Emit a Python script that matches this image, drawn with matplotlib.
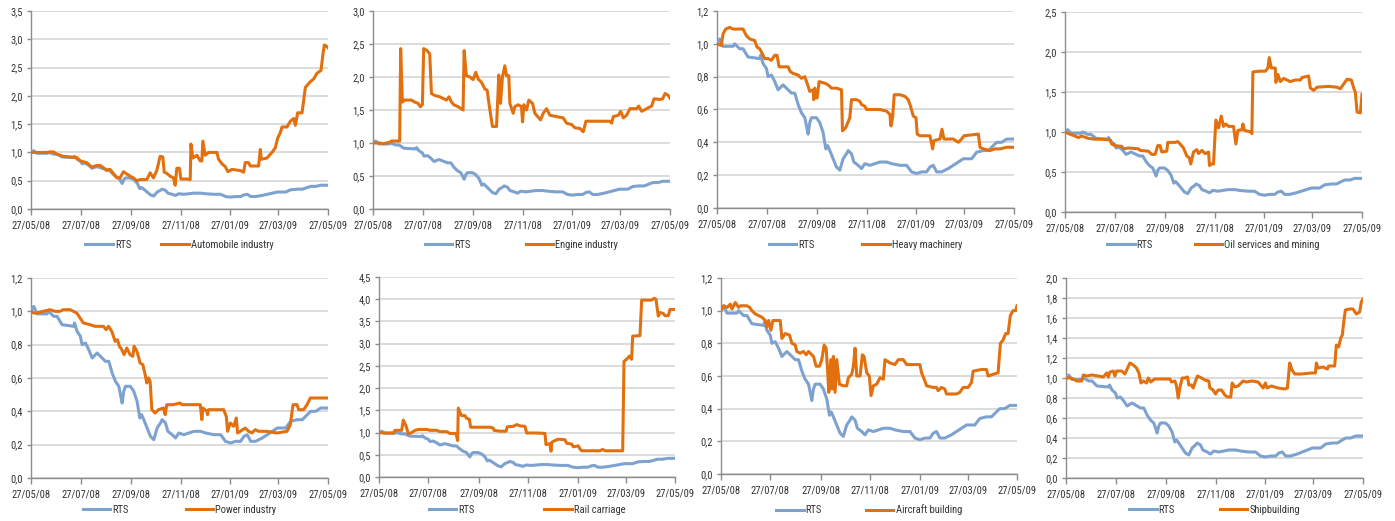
import matplotlib
matplotlib.use("Agg")
import matplotlib.pyplot as plt
from matplotlib import font_manager
import pandas as pd

# ---------------- data ----------------
START = "2008-05-27"
tick_dates = ["2008-05-27", "2008-07-27", "2008-09-27", "2008-11-27",
              "2009-01-27", "2009-03-27", "2009-05-27"]
tick_labels = ["27/05/08", "27/07/08", "27/09/08", "27/11/08",
               "27/01/09", "27/03/09", "27/05/09"]

# (day offset from 27/05/08, value)
rts = [(0, 1.00), (3.3, 1.03), (7.4, 0.985), (19.7, 0.985), (21.7, 1.00), (27.9, 0.97), (32, 0.97),
       (38.1, 0.92), (52.5, 0.91), (53.5, 0.93), (56.6, 0.88), (60.7, 0.85), (62.8, 0.80), (66.9, 0.81),
       (71, 0.77), (75.1, 0.72), (81.2, 0.75), (85.3, 0.73), (91.5, 0.70), (95.6, 0.70), (99.7, 0.63),
       (103.8, 0.58), (107.9, 0.55), (110, 0.50), (112, 0.45), (114, 0.52), (116.1, 0.55), (122.2, 0.55),
       (126.3, 0.52), (130.4, 0.46), (133.7, 0.36), (136, 0.38), (138.6, 0.35), (142.7, 0.30),
       (146.8, 0.25), (150.9, 0.23), (155, 0.30), (159.1, 0.33), (161.2, 0.35), (165.3, 0.33),
       (168.2, 0.28), (173.5, 0.26), (177.6, 0.24), (181.7, 0.27), (187.9, 0.26), (194, 0.27),
       (200.2, 0.28), (208.4, 0.28), (214.5, 0.27), (224.8, 0.26), (233, 0.26), (239.1, 0.22),
       (245.3, 0.21), (251.4, 0.22), (257.6, 0.22), (261.7, 0.25), (265.8, 0.26), (269.9, 0.22),
       (276, 0.22), (284.2, 0.24), (290.4, 0.26), (296.6, 0.28), (302.7, 0.30), (306.8, 0.30),
       (313, 0.30), (319.1, 0.34), (327.3, 0.35), (333.5, 0.35), (339.6, 0.38), (343.7, 0.40),
       (349.9, 0.40), (356, 0.42), (365, 0.42)]

automobile = [(0, 1.00), (2.9, 1.00), (19.3, 1.00), (23.4, 1.01), (27.5, 1.01), (31.6, 0.97), (39.8, 0.93),
              (56.2, 0.91), (60.3, 0.85), (68.5, 0.82), (74.7, 0.74), (80.8, 0.77), (84.9, 0.77), (89, 0.73),
              (93.1, 0.68), (97.2, 0.70), (101.3, 0.63), (105.4, 0.55), (109.5, 0.55), (113.6, 0.66),
              (117.7, 0.62), (121.8, 0.58), (125.9, 0.55), (130, 0.50), (134.1, 0.52), (142.3, 0.52),
              (146.4, 0.64), (150.5, 0.55), (154.6, 0.68), (158.7, 0.93), (162, 0.92), (163.7, 0.65),
              (166.9, 0.63), (171, 0.58), (175.1, 0.55), (177.2, 0.42), (179.2, 0.72), (182.5, 0.72),
              (184.2, 0.53), (191.5, 0.53), (195.7, 0.52), (196.5, 1.15), (198.9, 0.90), (203.9, 0.95),
              (208, 0.85), (210, 0.85), (211.2, 1.20), (214.1, 0.95), (218.2, 1.00), (228.5, 1.00),
              (230.5, 0.88), (234.6, 0.80), (238.7, 0.75), (242, 0.66), (246.9, 0.70), (257.2, 0.68),
              (261.3, 0.65), (263.3, 0.82), (267.4, 0.82), (269.5, 0.76), (279.7, 0.76), (281.8, 1.05),
              (283, 0.88), (290, 0.90), (296.1, 1.00), (300.2, 1.08), (303.1, 1.25), (306.4, 1.35),
              (308.5, 1.45), (314.6, 1.45), (318.7, 1.55), (322.8, 1.60), (324.9, 1.48), (327.7, 1.70),
              (333.1, 1.70), (337.2, 2.15), (343.3, 2.25), (347.4, 2.30), (351.5, 2.40), (356.4, 2.45),
              (358.9, 2.75), (360.5, 2.90), (363, 2.88), (365, 2.85)]

engine = [(0, 1.00), (8.2, 1.00), (12.3, 0.99), (20.5, 1.01), (22.6, 1.03), (32.8, 1.03), (34, 2.43),
          (36.1, 1.62), (39, 1.65), (47.2, 1.65), (51.3, 1.62), (55.4, 1.60), (58.2, 1.55), (60.7, 1.58),
          (62.3, 2.43), (66.4, 2.40), (69.7, 2.35), (71.8, 1.75), (75.9, 1.72), (82, 1.70), (90.2, 1.65),
          (93.5, 1.70), (96.4, 1.62), (99.3, 1.58), (104.6, 1.55), (110.7, 1.50), (112, 2.40),
          (114.8, 2.02), (119, 2.00), (123, 1.96), (126.3, 2.07), (129.2, 1.97), (133.3, 1.92),
          (137.4, 1.82), (140.3, 1.80), (142.7, 1.58), (146.8, 1.25), (151.8, 1.25), (154.6, 2.03),
          (156.7, 1.60), (159.1, 2.00), (162, 2.17), (164.1, 2.02), (166.9, 2.02), (168.2, 1.60),
          (172.3, 1.45), (174.3, 1.55), (178.4, 1.58), (182.5, 1.55), (183.8, 1.32), (185.4, 1.58),
          (188.7, 1.50), (191.5, 1.65), (196.1, 1.60), (198.9, 1.45), (205.9, 1.35), (209.2, 1.45),
          (213.3, 1.52), (217.4, 1.42), (225.6, 1.40), (233.8, 1.38), (237.9, 1.30), (244, 1.28),
          (248.2, 1.23), (254.3, 1.22), (258.4, 1.17), (261.7, 1.33), (266.6, 1.33), (283, 1.33),
          (291.2, 1.33), (293.3, 1.30), (295.3, 1.40), (301.5, 1.42), (304.4, 1.48), (307.6, 1.38),
          (311.7, 1.42), (315.8, 1.52), (324, 1.52), (326.5, 1.56), (330.2, 1.48), (336.3, 1.52),
          (342.5, 1.56), (345.4, 1.67), (352.7, 1.66), (356, 1.67), (358.9, 1.75), (363, 1.72), (365, 1.68)]

heavy = [(0, 1.00), (5.3, 0.99), (7.4, 1.06), (10.7, 1.09), (15.6, 1.10), (19.7, 1.09), (32, 1.09),
         (36.1, 1.05), (40.2, 1.03), (46.3, 1.02), (49.2, 0.98), (52.5, 0.97), (54.6, 0.95), (58.7, 0.91),
         (62.8, 0.91), (66.9, 0.90), (71, 0.93), (73.8, 0.93), (76.3, 0.86), (81.2, 0.86), (87.4, 0.86),
         (90.2, 0.83), (93.5, 0.82), (99.7, 0.81), (103.8, 0.79), (107.9, 0.80), (110.7, 0.76), (114, 0.71),
         (118.1, 0.72), (119, 0.66), (120.2, 0.73), (123, 0.67), (125.5, 0.77), (132.5, 0.76),
         (136.6, 0.75), (140.7, 0.73), (146.8, 0.73), (153, 0.72), (154.2, 0.47), (158.3, 0.49),
         (163.2, 0.55), (165.3, 0.66), (171.5, 0.66), (175.6, 0.65), (177.6, 0.63), (181.7, 0.62),
         (183.8, 0.60), (200.2, 0.60), (208.4, 0.59), (212.5, 0.57), (213.7, 0.50), (215.8, 0.55),
         (217.8, 0.69), (224.8, 0.69), (230.9, 0.68), (235, 0.66), (237.9, 0.62), (241.2, 0.56),
         (244.5, 0.55), (246.1, 0.45), (249.4, 0.44), (261.7, 0.44), (265, 0.36), (266.6, 0.41),
         (274, 0.42), (276.5, 0.48), (278.9, 0.42), (290.4, 0.42), (296.6, 0.40), (300.6, 0.42),
         (303.5, 0.44), (321.2, 0.45), (323.2, 0.37), (327.3, 0.36), (335.5, 0.35), (341.7, 0.36),
         (347.8, 0.36), (356, 0.37), (365, 0.37)]

oil = [(0, 1.00), (4.1, 0.98), (12.3, 0.95), (16.4, 0.93), (20.5, 0.95), (28.7, 0.92), (36.9, 0.91),
       (45.1, 0.91), (55.4, 0.90), (57.4, 0.85), (61.5, 0.83), (69.7, 0.82), (71.8, 0.79), (77.9, 0.80),
       (90.2, 0.79), (92.3, 0.77), (102.5, 0.76), (106.6, 0.72), (110.7, 0.72), (114, 0.83), (116.9, 0.83),
       (118.9, 0.75), (125.1, 0.76), (126.3, 0.87), (135.4, 0.87), (138.6, 0.88), (141.5, 0.85),
       (145.6, 0.80), (149.7, 0.70), (152.6, 0.68), (154.6, 0.60), (157.9, 0.75), (162, 0.78),
       (164.1, 0.73), (168.2, 0.77), (172.3, 0.73), (176.4, 0.75), (177.6, 0.58), (179.7, 0.60),
       (182.5, 0.60), (185.4, 1.15), (188.7, 1.05), (192, 1.20), (194.8, 1.07), (197.7, 1.10),
       (201, 1.07), (207.1, 1.07), (210, 0.85), (212.5, 1.02), (217.4, 1.03), (218.6, 1.10),
       (220.7, 1.02), (228.9, 1.00), (229.7, 0.98), (230.9, 1.75), (237.9, 1.76), (246.1, 1.76),
       (249.4, 1.80), (251, 1.93), (253.5, 1.80), (258.4, 1.80), (259.2, 1.62), (261.7, 1.72),
       (264.6, 1.63), (268.7, 1.67), (272.8, 1.65), (276.9, 1.63), (283, 1.65), (289.2, 1.65),
       (291.2, 1.68), (299.4, 1.70), (301.5, 1.55), (305.6, 1.52), (309.7, 1.56), (324, 1.57),
       (334.3, 1.56), (338.4, 1.54), (342.5, 1.60), (346.6, 1.66), (351.9, 1.65), (354.8, 1.55),
       (356.8, 1.50), (358.9, 1.25), (363, 1.24), (365, 1.47)]

power = [(0, 1.00), (2.9, 0.99), (7, 0.99), (15.2, 1.00), (23.4, 1.01), (29.5, 1.00), (35.7, 1.00),
         (39.8, 1.01), (48, 1.01), (52.1, 1.00), (56.2, 0.99), (60.3, 0.96), (64.4, 0.93), (72.6, 0.92),
         (78.8, 0.91), (89, 0.91), (92.3, 0.89), (95.2, 0.91), (99.3, 0.88), (103.4, 0.82), (106.2, 0.83),
         (108.7, 0.79), (111.6, 0.77), (114.4, 0.74), (117.7, 0.78), (121.8, 0.74), (125.1, 0.73),
         (126.7, 0.79), (129.2, 0.77), (130.8, 0.75), (134.1, 0.69), (137.4, 0.68), (140.3, 0.62),
         (142.3, 0.57), (144.4, 0.60), (146.4, 0.58), (148.5, 0.41), (152.6, 0.39), (156.7, 0.41),
         (162.8, 0.42), (164.9, 0.38), (166.9, 0.44), (175.1, 0.44), (183.3, 0.45), (185.4, 0.44),
         (199.8, 0.44), (208, 0.44), (210, 0.35), (211.2, 0.42), (216.2, 0.40), (217, 0.38), (218.2, 0.41),
         (236.7, 0.41), (240, 0.37), (241.6, 0.28), (244.9, 0.33), (249, 0.31), (252.3, 0.36),
         (253.9, 0.27), (257.2, 0.28), (263.3, 0.30), (267.4, 0.28), (271.5, 0.27), (275.6, 0.29),
         (279.7, 0.28), (290, 0.28), (302.3, 0.27), (314.6, 0.28), (318.7, 0.32), (322, 0.44),
         (326.9, 0.44), (329, 0.41), (335.1, 0.41), (339.2, 0.44), (343.3, 0.48), (351.5, 0.48), (365, 0.48)]

rail = [(0, 1.00), (5.3, 0.99), (17.7, 0.99), (19.7, 1.05), (27.9, 1.05), (30, 1.28), (33.3, 1.15),
        (36.2, 0.97), (40.3, 1.00), (44.4, 1.05), (48.5, 1.07), (58.8, 1.07), (62.9, 1.05), (71.1, 1.05),
        (75.2, 1.02), (83.4, 1.02), (87.5, 0.98), (94.9, 0.98), (97, 0.82), (97.8, 1.55), (99.9, 1.45),
        (101.9, 1.38), (106, 1.38), (108.1, 1.32), (111.4, 1.30), (113, 1.12), (120.4, 1.12),
        (136.9, 1.12), (141, 1.10), (141.8, 1.05), (149.2, 1.03), (156.6, 1.03), (158.2, 1.13),
        (165.6, 1.14), (169.8, 1.18), (173.9, 1.15), (180, 1.14), (182.1, 0.99), (194.4, 0.99),
        (204.7, 0.98), (205.9, 0.73), (210.8, 0.75), (212.1, 0.58), (212.9, 0.78), (217, 0.82),
        (221.1, 0.85), (229.3, 0.84), (231.4, 0.76), (237.6, 0.74), (239.6, 0.68), (245.8, 0.70),
        (247.9, 0.63), (249.9, 0.59), (256.1, 0.59), (272.5, 0.59), (275.8, 0.62), (278.7, 0.59),
        (300.5, 0.59), (302.1, 2.60), (305.4, 2.65), (308.7, 2.72), (311.5, 2.65), (312.8, 3.17),
        (321.8, 3.18), (323.9, 3.98), (336.2, 3.98), (339.1, 4.02), (341.5, 4.00), (344.4, 3.62),
        (346.5, 3.70), (350.6, 3.68), (352.6, 3.63), (356.8, 3.63), (358.8, 3.77), (365, 3.77)]

aircraft = [(0, 1.00), (3.3, 1.03), (7.4, 1.02), (11.5, 1.04), (13.5, 1.01), (15.6, 1.03), (17.6, 1.05),
            (21.7, 1.02), (23.8, 1.03), (32, 1.03), (35.3, 1.02), (38.1, 1.00), (42.2, 0.98), (46.3, 0.97),
            (50.5, 0.96), (54.6, 0.94), (56.6, 0.90), (58.7, 0.94), (61.5, 0.88), (64, 0.94), (73, 0.94),
            (75.1, 0.83), (79.2, 0.86), (84.5, 0.85), (87.4, 0.80), (91.5, 0.79), (93.5, 0.75),
            (97.6, 0.74), (101.7, 0.75), (105, 0.73), (107.9, 0.75), (112, 0.73), (114, 0.72),
            (117.3, 0.66), (121.4, 0.66), (124.3, 0.70), (127.2, 0.79), (129.6, 0.77), (131.3, 0.65),
            (132.9, 0.50), (135.4, 0.70), (137, 0.52), (138.6, 0.72), (140.7, 0.50), (142.7, 0.70),
            (146, 0.55), (150.9, 0.54), (155, 0.54), (157.1, 0.59), (161.2, 0.61), (163.2, 0.66),
            (165.3, 0.77), (167.4, 0.60), (171.5, 0.60), (174.3, 0.73), (176.4, 0.72), (179.7, 0.62),
            (182.9, 0.60), (185, 0.48), (187.9, 0.54), (192, 0.55), (196.1, 0.59), (200.2, 0.58),
            (202.2, 0.70), (208.4, 0.68), (214.5, 0.67), (218.6, 0.70), (224.8, 0.70), (228.9, 0.67),
            (245.3, 0.67), (247.3, 0.62), (251.4, 0.57), (253.5, 0.54), (261.7, 0.53), (265.8, 0.53),
            (267.8, 0.51), (271.9, 0.53), (276, 0.52), (278.1, 0.49), (290.4, 0.49), (294.5, 0.50),
            (298.6, 0.53), (304.8, 0.53), (308.9, 0.56), (310.9, 0.63), (321.2, 0.64), (327.3, 0.64),
            (329.4, 0.60), (335.5, 0.61), (341.7, 0.62), (344.5, 0.80), (347.8, 0.82), (351.1, 0.86),
            (354, 0.86), (356.8, 0.97), (360.1, 1.00), (363.4, 1.00), (365, 1.03)]

ship = [(0, 1.00), (4.9, 1.00), (9, 0.99), (13.1, 0.97), (19.2, 0.97), (21.3, 1.03), (25.4, 1.02),
        (31.5, 1.03), (39.7, 1.02), (45.8, 1.01), (49.9, 1.05), (52, 1.01), (54, 1.06), (58.1, 1.07),
        (60.1, 1.02), (62.2, 1.07), (68.3, 1.07), (72.4, 1.04), (75.7, 1.10), (78.6, 1.15), (82.7, 1.13),
        (86.7, 1.10), (89.6, 1.05), (92.1, 0.95), (94.9, 0.97), (99, 0.95), (101.1, 1.00), (104.3, 0.96),
        (107.2, 0.98), (109.2, 0.99), (115.4, 0.99), (123.6, 0.99), (127.7, 0.99), (129.7, 0.96),
        (133.8, 0.97), (135.8, 0.92), (137.9, 0.80), (139.9, 0.90), (142.8, 1.00), (146.1, 1.00),
        (149.3, 1.01), (151, 0.93), (154.3, 0.93), (156.3, 0.90), (159.2, 0.97), (161.6, 1.02),
        (166.5, 1.00), (170.6, 0.98), (175.5, 0.97), (176.8, 0.90), (180.8, 0.88), (183.7, 0.84),
        (187, 0.88), (191.1, 0.88), (195.2, 0.83), (198.4, 0.81), (202.5, 0.81), (204.2, 0.95),
        (207.4, 0.91), (211.5, 0.92), (217.7, 0.97), (221.8, 0.96), (227.9, 0.97), (236.1, 0.96),
        (240.2, 0.92), (242.2, 0.90), (245.1, 0.95), (247.1, 0.90), (252.4, 0.92), (260.6, 0.90),
        (268.8, 0.89), (272.1, 0.90), (274.9, 1.15), (277.8, 1.08), (281.1, 1.04), (289.3, 1.04),
        (301.6, 1.05), (306.5, 1.05), (307.7, 1.15), (309.7, 1.10), (315.9, 1.11), (321.2, 1.09),
        (322.8, 1.12), (330.2, 1.12), (332.2, 1.33), (335.1, 1.31), (337.6, 1.40), (339.6, 1.43),
        (341.2, 1.55), (343.3, 1.68), (348.6, 1.69), (352.7, 1.69), (356.8, 1.64), (360.9, 1.66),
        (362.9, 1.76), (365, 1.79)]

sector_names = ["Automobile industry", "Engine industry", "Heavy machinery", "Oil services and mining",
                "Power industry", "Rail carriage", "Aircraft building", "Shipbuilding"]
sector_series = [automobile, engine, heavy, oil, power, rail, aircraft, ship]
y_max = [3.5, 3.0, 1.2, 2.5, 1.2, 4.5, 1.2, 2.0]
y_step = [0.5, 0.5, 0.2, 0.5, 0.2, 0.5, 0.2, 0.2]

# ---------------- style / layout ----------------
W, H = 1395, 521
avail = {f.name for f in font_manager.fontManager.ttflist}
fams = [f for f in ["Liberation Sans Narrow", "Roboto Condensed", "Liberation Sans", "DejaVu Sans"] if f in avail]
plt.rcParams["font.family"] = fams
FS = 7.6
TXT = "#333333"
BLUE = "#7EA2CF"
ORANGE = "#E3700E"
GRID = "#D9D9D9"
SPINE = "#8C8C8C"

# axes rectangles in pixels: left, right, top, bottom
rects = [(31, 328, 11, 209), (373, 670, 11, 209), (717, 1014, 11, 208), (1065, 1362, 12, 212),
         (31, 328, 278, 478), (379, 675, 277, 477), (721, 1017, 278, 474), (1066, 1363, 278, 478)]
legend_y = [245, 245, 245, 245, 510, 510, 510, 510]
col_gap_px = [30, 55, 48, 42, 57, 70, 44, 45]

start = pd.Timestamp(START)
tick_pos = [(pd.Timestamp(d) - start).days for d in tick_dates]

fig = plt.figure(figsize=(W / 100, H / 100), dpi=100)
fig.patch.set_facecolor("white")

fs_px = FS * 100 / 72
for i in range(8):
    l, r, t, b = rects[i]
    ax = fig.add_axes([l / W, 1 - b / H, (r - l) / W, (b - t) / H])
    rx, ry = zip(*rts)
    sx, sy = zip(*sector_series[i])
    ax.plot(rx, ry, color=BLUE, lw=2.2, label="RTS", solid_joinstyle="round", zorder=3)
    ax.plot(sx, sy, color=ORANGE, lw=2.2, label=sector_names[i], solid_joinstyle="round", zorder=4)
    ax.set_xlim(0, 365)
    ax.set_ylim(0, y_max[i])
    n = int(round(y_max[i] / y_step[i]))
    yt = [k * y_step[i] for k in range(n + 1)]
    ax.set_yticks(yt)
    ax.set_yticklabels([f"{v:.1f}".replace(".", ",") for v in yt])
    ax.set_xticks(tick_pos)
    ax.set_xticklabels(tick_labels)
    ax.yaxis.grid(True, color=GRID, lw=1.3, zorder=0)
    ax.set_axisbelow(True)
    for s in ["top", "right"]:
        ax.spines[s].set_visible(False)
    for s in ["left", "bottom"]:
        ax.spines[s].set_color(SPINE)
        ax.spines[s].set_linewidth(1.0)
    ax.tick_params(axis="x", length=4, width=1, color=SPINE, labelsize=FS, labelcolor=TXT, pad=4)
    ax.tick_params(axis="y", length=3, width=1, color=SPINE, labelsize=FS, labelcolor=TXT, pad=3)
    ly = -(legend_y[i] - b) / (b - t)
    ax.legend(loc="center", bbox_to_anchor=(0.5, ly), ncol=2, frameon=False, fontsize=FS,
              handlelength=2.6, handletextpad=0.2, columnspacing=col_gap_px[i] / fs_px,
              labelcolor=TXT, borderaxespad=0, borderpad=0)

fig.savefig("out.png", dpi=100, facecolor="white")
